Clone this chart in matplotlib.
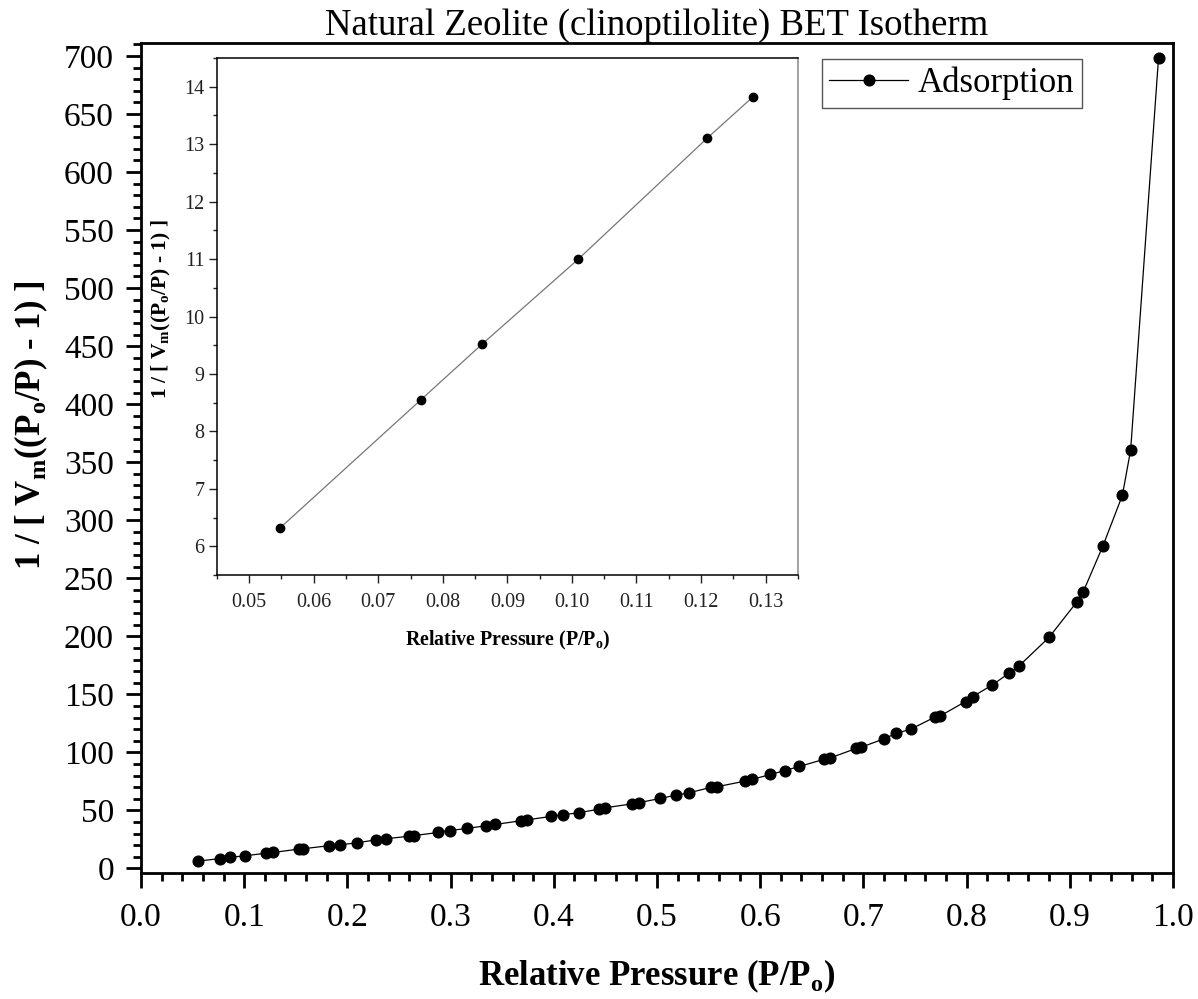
import matplotlib
matplotlib.use('Agg')
import matplotlib.pyplot as plt
from matplotlib.ticker import MultipleLocator, FormatStrFormatter

plt.rcParams['font.family'] = ['Liberation Serif', 'DejaVu Serif']
plt.rcParams['mathtext.fontset'] = 'custom'
plt.rcParams['mathtext.rm'] = 'Liberation Serif'
plt.rcParams['mathtext.bf'] = 'Liberation Serif:bold'

# adsorption branch, full pressure range
rel_pressure = [0.055, 0.0766, 0.086, 0.101, 0.121, 0.128, 0.153, 0.157, 0.182, 0.193,
                0.209, 0.228, 0.237, 0.260, 0.265, 0.288, 0.299, 0.316, 0.334, 0.343,
                0.368, 0.374, 0.397, 0.409, 0.424, 0.444, 0.450, 0.476, 0.483, 0.503,
                0.518, 0.531, 0.552, 0.558, 0.585, 0.592, 0.610, 0.624, 0.638, 0.662,
                0.668, 0.693, 0.698, 0.720, 0.732, 0.746, 0.769, 0.774, 0.799, 0.806,
                0.825, 0.841, 0.851, 0.880, 0.907, 0.913, 0.932, 0.951, 0.959, 0.986]
bet_value = [6.3, 8.55, 9.52, 11.0, 13.1, 13.8, 16.7, 17.0, 19.6, 20.4,
             22.1, 24.7, 25.6, 27.8, 28.4, 31.0, 32.7, 34.5, 36.8, 37.9,
             41.1, 41.9, 44.8, 46.3, 48.0, 51.1, 52.3, 55.7, 56.8, 60.3,
             63.1, 65.2, 69.8, 70.4, 75.2, 76.7, 81.0, 84.4, 87.9, 94.1,
             95.3, 103.4, 104.5, 111.7, 116.5, 120.0, 130.3, 131.2, 143.8, 148.1,
             158.1, 168.2, 174.6, 199.2, 229.8, 238.3, 277.6, 321.5, 360.6, 698.0]

# linear BET region
bet_p = [0.0548, 0.0766, 0.0861, 0.101, 0.121, 0.128]
bet_y = [6.32, 8.55, 9.52, 11.0, 13.11, 13.82]

ylabel_text = r'1 / [ V$_\mathbf{m}$((P$_\mathbf{o}$/P) - 1) ]'
xlabel_text = r'Relative Pressure (P/P$_\mathbf{o}$)'

fig = plt.figure(figsize=(11.98, 9.99), dpi=100)
ax = fig.add_axes([0.1177, 0.126, 0.8614, 0.8308])

ax.plot(rel_pressure, bet_value, color='black', lw=0.9, marker='o', ms=7.7,
        label='Adsorption')
ax.set_xlim(0, 1.0)
ax.set_ylim(-4, 711)
ax.xaxis.set_major_locator(MultipleLocator(0.1))
ax.xaxis.set_minor_locator(MultipleLocator(0.02))
ax.xaxis.set_major_formatter(FormatStrFormatter('%.1f'))
ax.yaxis.set_major_locator(MultipleLocator(50))
ax.yaxis.set_minor_locator(MultipleLocator(10))
ax.tick_params(which='both', direction='out', width=2, labelsize=24)
ax.tick_params(which='major', length=11)
ax.tick_params(which='minor', length=5.5)
ax.tick_params(axis='x', pad=10)
ax.tick_params(axis='y', pad=8.5)
for s in ax.spines.values():
    s.set_linewidth(2)

ax.set_xlabel(xlabel_text, fontsize=25, fontweight='bold', labelpad=18)
ax.set_ylabel(ylabel_text, fontsize=25, fontweight='bold')
ax.yaxis.set_label_coords(-0.088, 0.54)
ax.set_title('Natural Zeolite (clinoptilolite) BET Isotherm', fontsize=26.5, pad=0)

leg = ax.legend(loc='upper right', bbox_to_anchor=(0.912, 0.981), borderaxespad=0,
                fontsize=25, fancybox=False, framealpha=1, edgecolor='#555555',
                handlelength=2.25, handletextpad=0.3, borderpad=0.22)
leg.get_frame().set_linewidth(1)

# inset with the linear fit range
axi = fig.add_axes([0.181, 0.4244, 0.485, 0.5175])
axi.plot(bet_p, bet_y, color='#777777', lw=0.9, marker='o', ms=6,
         mfc='black', mec='black')
axi.set_xlim(0.045, 0.135)
axi.set_ylim(5.5, 14.5)
axi.xaxis.set_major_locator(MultipleLocator(0.01))
axi.xaxis.set_minor_locator(MultipleLocator(0.005))
axi.xaxis.set_major_formatter(FormatStrFormatter('%.2f'))
axi.yaxis.set_major_locator(MultipleLocator(1))
axi.yaxis.set_minor_locator(MultipleLocator(0.5))
axi.tick_params(which='both', direction='out', width=1, labelsize=14.5, colors='#222222')
axi.tick_params(which='major', length=6)
axi.tick_params(which='minor', length=3)
axi.tick_params(axis='x', pad=7)
axi.tick_params(axis='y', pad=3)
for s in axi.spines.values():
    s.set_linewidth(1.1)
axi.spines['right'].set_color('#888888')
axi.set_xlabel(xlabel_text, fontsize=14.3, fontweight='bold', labelpad=12)
axi.set_ylabel(ylabel_text, fontsize=15.5, fontweight='bold', labelpad=6)
axi.yaxis.set_label_coords(-0.075, 0.515)

fig.savefig('out.png', dpi=100)
